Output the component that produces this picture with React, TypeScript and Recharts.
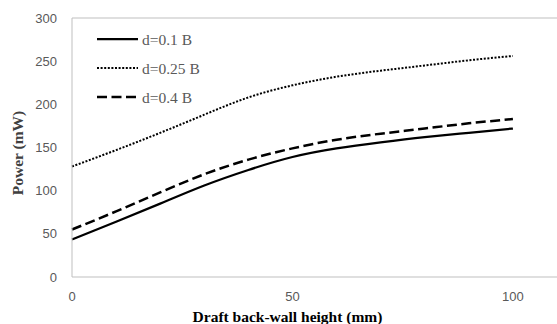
import React from 'react';
import { LineChart, Line, XAxis, YAxis, Legend, ReferenceLine, Label } from 'recharts';

// draft back-wall height (mm)
const heights = [0, 10, 20, 30, 40, 50, 60, 70, 80, 90, 100];

// power (mW) for each opening ratio
const powerD01 = [43.5, 64, 85, 106, 124, 139, 149, 156, 162, 167, 172];
const powerD025 = [128, 147, 167, 188, 208, 222, 232, 239, 245, 251, 256];
const powerD04 = [55, 76, 98, 119, 136, 149, 159, 166, 172, 178, 183];

const xTicks = [0, 50, 100];
const yTicks = [0, 50, 100, 150, 200, 250, 300];

const data = heights.map((h, i) => ({
  h,
  d01: powerD01[i],
  d025: powerD025[i],
  d04: powerD04[i],
}));

type SeriesDef = {
  key: string,
  name: string,
  width: number,
  dash?: string,
}

const series: Array<SeriesDef> = [
  { key: 'd01', name: 'd=0.1 B', width: 2.25 },
  { key: 'd025', name: 'd=0.25 B', width: 2, dash: '2 1.6' },
  { key: 'd04', name: 'd=0.4 B', width: 2.5, dash: '10 4.5' },
];

const serif = '"Liberation Serif", "Times New Roman", serif';
const tickStyle = { fontFamily: '"Liberation Sans", Arial, sans-serif', fontSize: 13, fill: '#595959' };

const LegendBox = () => (
  <svg width={120} height={90} style={{ display: 'block' }}>
    {series.map((s, i) => (
      <g key={s.key}>
        <line x1={0} x2={41} y1={12 + i * 29} y2={12 + i * 29} stroke="#000" strokeWidth={s.width} strokeDasharray={s.dash} />
        <text x={45} y={12 + i * 29} dominantBaseline="central" fontFamily={serif} fontSize={15.5} fill="#595959">{s.name}</text>
      </g>
    ))}
  </svg>
);

const App = () => {
  return (
    <div style={{ position: 'absolute', left: 0, top: 0, background: '#fff' }}>
      <LineChart width={557} height={324} data={data} margin={{ top: 18, right: 0, left: 0, bottom: 17 }}>
        <XAxis
          dataKey="h"
          type="number"
          domain={[0, 110]}
          ticks={xTicks}
          height={30}
          stroke="#bfbfbf"
          tickLine={false}
          tickSize={0}
          tickMargin={15}
          tick={tickStyle}
        >
          <Label
            content={() => (
              <text x={287.5} y={316} textAnchor="middle" dominantBaseline="central" fontFamily={serif} fontWeight="bold" fontSize={15.5} fill="#000">
                Draft back-wall height (mm)
              </text>
            )}
          />
        </XAxis>
        <YAxis
          type="number"
          domain={[0, 300]}
          ticks={yTicks}
          width={72}
          stroke="#bfbfbf"
          tickLine={false}
          tickSize={0}
          tickMargin={15}
          tick={tickStyle}
        >
          <Label
            content={() => (
              <text x={17} y={153} transform="rotate(-90 17 153)" textAnchor="middle" dominantBaseline="central" fontFamily={serif} fontWeight="bold" fontSize={15.5} fill="#404040">
                Power (mW)
              </text>
            )}
          />
        </YAxis>
        <ReferenceLine y={300} stroke="#bfbfbf" strokeWidth={1} />
        <Legend
          layout="vertical"
          align="center"
          verticalAlign="middle"
          content={() => <LegendBox />}
          wrapperStyle={{ top: 27, left: 97, width: 120, height: 90 }}
        />
        {series.map((s) => (
          <Line
            key={s.key}
            type="natural"
            dataKey={s.key}
            name={s.name}
            stroke="#000"
            strokeWidth={s.width}
            strokeDasharray={s.dash}
            dot={false}
            activeDot={false}
            isAnimationActive={false}
          />
        ))}
      </LineChart>
    </div>
  );
}

export default App;
